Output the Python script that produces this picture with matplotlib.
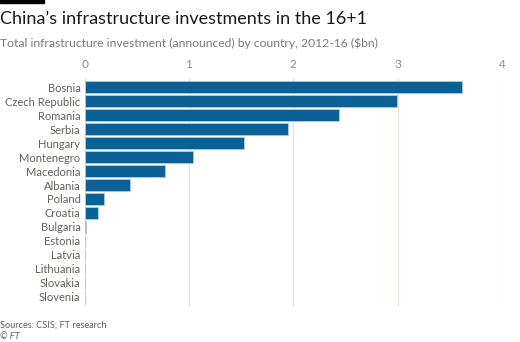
import numpy as np
import matplotlib.pyplot as plt

countries = ['Bosnia', 'Czech Republic', 'Romania', 'Serbia', 'Hungary',
             'Montenegro', 'Macedonia', 'Albania', 'Poland', 'Croatia',
             'Bulgaria', 'Estonia', 'Latvia', 'Lithuania', 'Slovakia', 'Slovenia']
investment = [3.62, 2.99, 2.44, 1.95, 1.53, 1.035, 0.77, 0.435, 0.19, 0.13,
              0.01, 0, 0, 0, 0, 0]
xticks = [0, 1, 2, 3, 4]

plt.rcParams['font.family'] = ['Lato', 'DejaVu Sans']

W, H = 520, 342
fig = plt.figure(figsize=(W / 100, H / 100), dpi=100)
fig.patch.set_facecolor('white')

ax = fig.add_axes([84.6 / W, 1 - 306.7 / H, (502 - 84.6) / W, (306.7 - 78) / H])
y = np.arange(len(countries))
ax.barh(y, investment, height=0.8, color='#0b6196', edgecolor='#a9cde3',
        linewidth=0.6, zorder=3)
ax.set_xlim(0, 4)
ax.set_ylim(len(countries) - 1 + 0.7, -0.65)
ax.set_yticks(y)
ax.set_yticklabels(countries)
ax.set_xticks(xticks)
ax.xaxis.tick_top()
ax.tick_params(axis='x', length=0, pad=6, labelsize=8.5, labelcolor='#8a8a8a')
ax.tick_params(axis='y', length=0, pad=3, labelsize=8, labelcolor='#66605c')
ax.grid(axis='x', color='#ece3db', linewidth=0.9, zorder=0)
for s in ax.spines.values():
    s.set_visible(False)

fig.patches.append(plt.Rectangle((0, 1 - 3 / H), 44 / W, 3 / H,
                                 transform=fig.transFigure, color='black'))
fig.text(0, 1 - 19 / H, "China\u2019s infrastructure investments in the 16+1",
         fontsize=13, color='#1a1a1a', va='center', ha='left')
fig.text(0, 1 - 43 / H, 'Total infrastructure investment (announced) by country, 2012-16 ($bn)',
         fontsize=8.7, color='#7a7a7a', va='center', ha='left')
fig.text(0, 1 - 325.5 / H, 'Sources: CSIS; FT research', fontsize=6.6,
         color='#66605c', va='center', ha='left')
fig.text(0, 1 - 336.5 / H, '\u00a9 FT', fontsize=6.6, style='italic',
         color='#66605c', va='center', ha='left')

fig.savefig('out.png', dpi=100, facecolor='white')
